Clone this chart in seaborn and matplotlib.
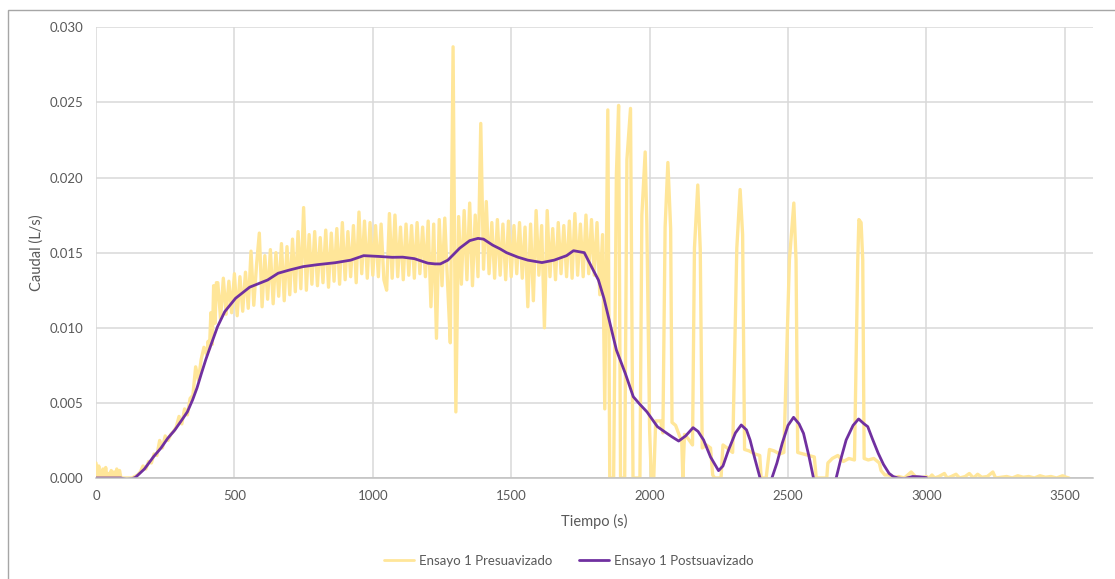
import numpy as np
import pandas as pd
import matplotlib
matplotlib.use("Agg")
import matplotlib.pyplot as plt
import seaborn as sns
from matplotlib.patches import Rectangle

# ---------------- DATA (caudal in mL/s, i.e. 1e-3 L/s) ----------------
# Ensayo 1 Presuavizado: start segment
t_start = [0, 5, 10, 15, 20, 25, 30, 35, 40, 45, 50, 55, 60, 65, 70, 75, 80, 85, 90, 100, 110, 120, 130, 140]
q_start = [1.0, 0.0, 0.8, 0.0, 0.0, 0.6, 0.0, 0.7, 0.0, 0.3, 0.0, 0.5, 0.0, 0.4, 0.0, 0.6, 0.0, 0.5, 0.0, 0.0, 0.0, 0.0, 0.0, 0.1]

# rising segment
t_rise = [150, 160, 170, 180, 190, 200, 210, 220, 230, 240, 250, 260, 270, 280, 290, 300,
          310, 320, 330, 340, 350, 360, 370, 380, 390, 400, 405, 410, 415, 420, 425, 430, 435]
q_rise = [0.2, 0.4, 0.8, 0.6, 1.1, 1.0, 1.6, 1.5, 2.5, 2.0, 2.8, 2.5, 2.9, 3.1, 3.4, 4.1,
          3.6, 4.6, 4.2, 5.3, 5.5, 7.4, 6.5, 7.9, 8.7, 8.2, 9.1, 8.6, 11.0, 8.9, 12.8, 10.3, 13.0]

# noisy plateau, sampled every 10 s from 440 s to 1830 s
t_band = np.arange(440, 1840, 10)
q_band = [13.0, 10.6, 13.3, 10.9, 13.1, 11.0, 13.6, 10.8, 13.4, 11.1,
          13.7, 11.3, 15.1, 11.5, 14.2, 16.3, 11.4, 14.8, 11.9, 15.2,
          11.6, 15.0, 12.1, 15.6, 11.8, 15.4, 12.2, 15.9, 12.4, 16.4,
          12.6, 18.0, 12.5, 16.2, 12.9, 16.4, 12.8, 16.0, 13.0, 16.5,
          12.7, 16.3, 13.1, 16.6, 12.9, 17.0, 13.2, 16.4, 13.4, 16.8,
          13.0, 17.7, 13.6, 17.1, 13.3, 17.0, 13.5, 16.8, 13.4, 16.9,
          13.2, 12.5, 17.6, 13.3, 17.5, 13.4, 16.7, 13.2, 16.9, 13.5,
          16.8, 13.3, 17.0, 13.6, 16.7, 13.4, 17.1, 11.4, 16.9, 9.3,
          17.2, 12.8, 17.3, 13.0, 9.0, 28.7, 4.4, 17.4, 12.9, 17.8,
          13.2, 18.3, 12.8, 17.5, 13.4, 23.6, 13.9, 18.4, 13.6, 17.0,
          13.3, 17.2, 13.5, 16.9, 13.2, 17.1, 13.4, 16.8, 13.6, 17.0,
          13.3, 16.7, 11.4, 16.9, 11.8, 17.8, 13.5, 16.8, 10.0, 17.8,
          13.4, 16.6, 13.2, 17.0, 13.6, 16.8, 13.4, 17.1, 13.3, 17.6,
          13.5, 16.9, 13.4, 17.5, 13.6, 17.2, 13.5, 17.0, 12.2, 16.2]

# oscillating tail
t_osc = [1838, 1849, 1856, 1870, 1880, 1888, 1895, 1910, 1918, 1931, 1940, 1965, 1972, 1984, 1990,
         2000, 2006, 2015, 2022, 2040, 2048, 2056, 2066, 2076, 2081, 2094, 2108, 2116, 2120, 2126,
         2140, 2155, 2162, 2174, 2183, 2190, 2205, 2220, 2228, 2235, 2258, 2265, 2280, 2300, 2315,
         2327, 2336, 2343, 2360, 2380, 2398, 2403, 2421, 2433, 2450, 2470, 2485, 2505, 2521, 2529,
         2535, 2555, 2575, 2595, 2602, 2640, 2644, 2660, 2680, 2700, 2720, 2740, 2752, 2756, 2764,
         2770, 2775, 2790, 2810, 2830, 2836, 2850, 2865, 2878, 2900, 2920, 2945, 2960, 2980, 3000]
q_osc = [4.6, 24.5, 0.0, 0.0, 20.2, 24.8, 0.0, 0.0, 21.2, 24.6, 0.0, 0.0, 17.5, 21.7, 16.9,
         3.2, 0.0, 0.0, 3.8, 3.8, 3.0, 16.7, 21.0, 16.6, 3.7, 3.5, 2.8, 2.5, 0.0, 2.9,
         2.6, 2.2, 15.3, 19.5, 15.2, 2.0, 2.2, 2.0, 0.2, 0.0, 0.0, 2.2, 2.0, 1.7, 15.3,
         19.2, 16.2, 1.9, 1.8, 1.6, 1.5, 0.0, 0.0, 1.9, 1.8, 1.6, 1.7, 14.5, 18.3, 14.5,
         1.7, 1.6, 1.5, 1.4, 0.0, 0.0, 1.0, 1.3, 1.5, 1.1, 1.3, 1.2, 14.5, 17.2, 17.0,
         14.5, 1.3, 1.2, 1.3, 1.0, 0.5, 0.2, 0.2, 0.0, 0.1, 0.0, 0.4, 0.1, 0.0, 0.1]

# residual noise at the end
t_end = [3010, 3020, 3030, 3045, 3065, 3075, 3090, 3107, 3120, 3140, 3155, 3170, 3185, 3200, 3220,
         3240, 3250, 3270, 3290, 3310, 3330, 3350, 3370, 3390, 3410, 3430, 3450, 3470, 3492, 3505, 3515]
q_end = [0.0, 0.2, 0.0, 0.1, 0.3, 0.0, 0.1, 0.25, 0.0, 0.1, 0.3, 0.0, 0.25, 0.05, 0.1,
         0.4, 0.0, 0.05, 0.1, 0.0, 0.15, 0.05, 0.1, 0.0, 0.15, 0.05, 0.1, 0.0, 0.15, 0.05, 0.0]

# Ensayo 1 Postsuavizado
t_post = [0, 40, 90, 110, 130, 143, 175, 208, 235, 259, 285, 310, 330, 349, 365, 381, 397, 413, 439, 465,
          504, 555, 620, 658, 700, 748, 800, 864, 920, 967, 1020, 1070, 1108, 1150, 1199, 1225, 1244, 1271,
          1290, 1314, 1350, 1380, 1400, 1433, 1460, 1483, 1524, 1560, 1611, 1655, 1700, 1725, 1764, 1796,
          1815, 1835, 1848, 1880,
          1912, 1941, 1965, 1990, 2028, 2054, 2080, 2105, 2130, 2157, 2175, 2195, 2220, 2249, 2265, 2285,
          2310, 2331, 2350, 2363, 2380, 2399, 2420, 2440, 2460, 2479, 2500, 2520, 2540, 2556, 2575, 2592,
          2633, 2674, 2690, 2710, 2735, 2755, 2775, 2788, 2805, 2826, 2845, 2865, 2880, 2897, 2920, 2950,
          2975, 3000]
q_post = [0, 0, 0, -0.1, -0.05, 0.05, 0.6, 1.42, 2.0, 2.64, 3.2, 3.86, 4.4, 5.2, 6.0, 6.97, 7.9, 8.74, 10.07, 11.07,
          11.96, 12.7, 13.18, 13.63, 13.85, 14.07, 14.2, 14.33, 14.5, 14.8, 14.75, 14.69, 14.7, 14.6, 14.3, 14.25, 14.25, 14.5,
          14.85, 15.3, 15.8, 15.95, 15.9, 15.5, 15.25, 15.0, 14.7, 14.5, 14.34, 14.5, 14.8, 15.13, 15.0, 13.85,
          13.18, 11.96, 10.97, 8.52,
          6.97, 5.41, 4.9, 4.41, 3.42, 3.08, 2.75, 2.46, 2.8, 3.35, 3.1, 2.53, 1.4, 0.49, 0.8, 1.86,
          3.0, 3.53, 3.2, 2.53, 1.3, 0.0, -0.8, -0.1, 1.0, 2.31, 3.5, 4.04, 3.6, 2.97, 1.5, 0.0,
          -1.0, 0.0, 1.2, 2.53, 3.5, 3.93, 3.6, 3.42, 2.6, 1.64, 0.9, 0.31, 0.1, 0.0, -0.05, 0.1,
          0.08, 0.03]

x_ticks = [0, 500, 1000, 1500, 2000, 2500, 3000, 3500]
y_ticks = [0.000, 0.005, 0.010, 0.015, 0.020, 0.025, 0.030]
label_pre = "Ensayo 1 Presuavizado"
label_post = "Ensayo 1 Postsuavizado"

# ---------------- BUILD ----------------
t_pre = np.concatenate([t_start, t_rise, t_band, t_osc, t_end])
q_pre = np.concatenate([q_start, q_rise, q_band, q_osc, q_end]) / 1000.0  # mL/s -> L/s
df_pre = pd.DataFrame({"Tiempo": t_pre, "Caudal": q_pre})
df_post = pd.DataFrame({"Tiempo": t_post, "Caudal": np.array(q_post) / 1000.0})

YELLOW = "#FFE699"
PURPLE = "#7030A0"
TXT = "#595959"
GRID = "#D9D9D9"

sns.set_theme(style="white")
plt.rcParams['font.family'] = ['Lato', 'DejaVu Sans']

W, H = 1115, 579
fig = plt.figure(figsize=(W / 100, H / 100), dpi=100)
ax = fig.add_axes([96 / W, 1 - 478 / H, (1092.5 - 96) / W, (478 - 27.3) / H])

sns.lineplot(data=df_pre, x="Tiempo", y="Caudal", ax=ax, color=YELLOW, lw=2.4,
             estimator=None, sort=False, label=label_pre)
sns.lineplot(data=df_post, x="Tiempo", y="Caudal", ax=ax, color=PURPLE, lw=2.0,
             estimator=None, sort=False, label=label_post)

ax.set_xlim(0, 3600)
ax.set_ylim(0, 0.030)
ax.set_xticks(x_ticks)
ax.set_yticks(y_ticks)
ax.set_xticklabels([str(v) for v in x_ticks])
ax.set_yticklabels([f"{v:.3f}" for v in y_ticks])
ax.grid(True, color=GRID, lw=1.1)
ax.set_axisbelow(True)
for s in ["top", "right", "left"]:
    ax.spines[s].set_visible(False)
ax.spines["bottom"].set_color("#BFBFBF")
ax.spines["bottom"].set_linewidth(1.1)
ax.tick_params(axis="both", length=0, colors=TXT, labelsize=9.5)
ax.tick_params(axis="y", pad=9)
ax.tick_params(axis="x", pad=9)

ax.set_xlabel("Tiempo (s)", color=TXT, fontsize=10.5)
ax.set_ylabel("Caudal (L/s)", color=TXT, fontsize=10.5)
ax.xaxis.set_label_coords(0.5, -0.080)
ax.yaxis.set_label_coords(-0.052, 0.5)

ax.legend_.remove()
handles, labels = ax.get_legend_handles_labels()
leg = fig.legend(handles, labels, loc="center", bbox_to_anchor=(0.51, 1 - 561 / H), ncol=2,
                 frameon=False, fontsize=9.5, handlelength=2.3, handletextpad=0.35,
                 columnspacing=2.0)
for line in leg.get_lines():
    line.set_linewidth(2.0)
for txt in leg.get_texts():
    txt.set_color(TXT)

fig.add_artist(Rectangle((8 / W, -0.1), 1.2, 1 - 10 / H + 0.1, transform=fig.transFigure,
                         fill=False, ec="#A6A6A6", lw=1.0))

fig.savefig("out.png", dpi=100)
